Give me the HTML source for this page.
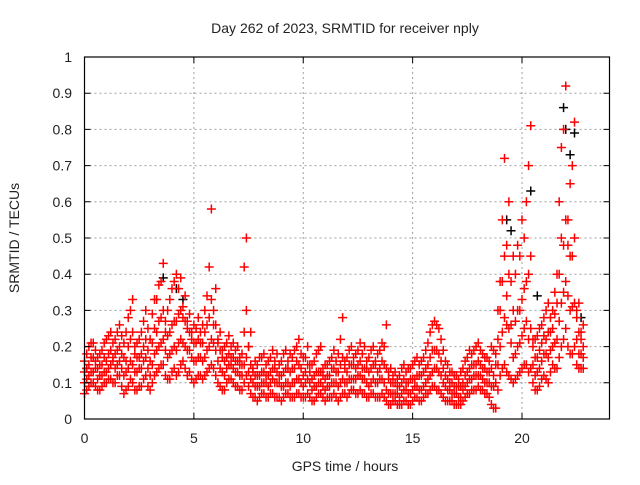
<!DOCTYPE html>
<html><head><meta charset="utf-8"><style>
body{margin:0;background:#fff;width:640px;height:480px;overflow:hidden}
svg text{font-family:"Liberation Sans",sans-serif;font-size:14px;fill:#222}
</style></head><body>
<svg id="chart" width="640" height="480" xmlns="http://www.w3.org/2000/svg">
<rect width="640" height="480" fill="#fff"/>
<g id="grid"></g>
<g id="marks"></g>
<rect x="84.5" y="57" width="525" height="362" fill="none" stroke="#000" stroke-width="1.2"/>
<g id="ticks"></g>
<text x="345" y="33" text-anchor="middle">Day 262 of 2023, SRMTID for receiver nply</text>
<text x="345" y="471" text-anchor="middle">GPS time / hours</text>
<text transform="translate(19,238) rotate(-90)" text-anchor="middle">SRMTID / TECUs</text>
</svg>
<script>
const times=[0.0,0.2,0.4,0.6,0.8,1.0,1.2,1.4,1.6,1.8,2.0,2.2,2.4,2.6,2.8,3.0,3.2,3.4,3.6,3.8,4.0,4.2,4.4,4.6,4.8,5.0,5.2,5.4,5.6,5.8,6.0,6.2,6.4,6.6,6.8,7.0,7.2,7.4,7.6,7.8,8.0,8.2,8.4,8.6,8.8,9.0,9.2,9.4,9.6,9.8,10.0,10.2,10.4,10.6,10.8,11.0,11.2,11.4,11.6,11.8,12.0,12.2,12.4,12.6,12.8,13.0,13.2,13.4,13.6,13.8,14.0,14.2,14.4,14.6,14.8,15.0,15.2,15.4,15.6,15.8,16.0,16.2,16.4,16.6,16.8,17.0,17.2,17.4,17.6,17.8,18.0,18.2,18.4,18.6,18.8,19.0,19.2,19.4,19.6,19.8,20.0,20.2,20.4,20.6,20.8,21.0,21.2,21.4,21.6,21.8,22.0,22.2,22.4,22.6,22.8];
const redLow=[.07,.09,.10,.08,.09,.10,.11,.10,.12,.07,.09,.10,.08,.09,.12,.08,.12,.14,.15,.11,.13,.12,.15,.14,.13,.10,.12,.11,.13,.15,.12,.09,.08,.11,.10,.09,.08,.12,.07,.06,.06,.07,.06,.07,.06,.05,.07,.06,.06,.07,.06,.07,.05,.06,.07,.05,.06,.07,.05,.07,.06,.08,.07,.08,.07,.06,.07,.06,.07,.05,.04,.05,.04,.05,.04,.05,.06,.05,.07,.08,.09,.08,.06,.05,.05,.04,.04,.06,.07,.08,.09,.08,.07,.04,.03,.12,.15,.12,.10,.12,.14,.15,.14,.08,.09,.12,.10,.15,.14,.20,.25,.18,.20,.14,.14];
const redMid1=[.10,.12,.13,.11,.12,.13,.15,.14,.16,.12,.14,.15,.13,.14,.17,.12,.18,.20,.22,.17,.19,.19,.22,.20,.19,.16,.17,.16,.19,.22,.19,.14,.12,.15,.14,.13,.12,.17,.11,.09,.09,.10,.09,.11,.10,.09,.10,.09,.10,.11,.09,.11,.08,.09,.10,.08,.09,.10,.09,.11,.10,.11,.11,.12,.11,.09,.11,.10,.11,.08,.07,.07,.06,.08,.07,.08,.09,.08,.10,.12,.14,.13,.10,.08,.07,.07,.06,.09,.11,.12,.12,.11,.10,.09,.10,.20,.28,.25,.17,.20,.23,.27,.25,.12,.14,.18,.17,.20,.22,.32,.38,.30,.32,.18,.17];
const redMid2=[.13,.15,.17,.14,.15,.16,.19,.18,.20,.17,.20,.24,.17,.18,.22,.16,.25,.27,.30,.23,.26,.27,.30,.27,.24,.21,.22,.21,.26,.33,.26,.19,.16,.18,.17,.16,.15,.30,.15,.12,.12,.13,.12,.14,.13,.12,.14,.13,.14,.15,.12,.15,.11,.13,.13,.11,.12,.14,.13,.17,.13,.15,.14,.16,.14,.13,.15,.13,.16,.14,.10,.10,.09,.11,.10,.11,.12,.12,.14,.17,.19,.18,.14,.11,.10,.09,.09,.12,.14,.15,.16,.14,.13,.14,.15,.30,.45,.40,.30,.30,.33,.38,.45,.17,.19,.23,.24,.25,.32,.50,.55,.45,.50,.24,.20];
const redHigh=[.16,.20,.21,.17,.19,.22,.24,.22,.26,.21,.28,.33,.21,.24,.30,.22,.33,.37,.43,.30,.36,.40,.39,.34,.29,.26,.28,.26,.34,.58,.36,.24,.20,.23,.21,.20,.18,.50,.24,.16,.17,.18,.16,.19,.18,.16,.19,.18,.19,.22,.17,.20,.15,.18,.20,.15,.16,.19,.18,.28,.17,.20,.18,.21,.20,.17,.20,.18,.21,.26,.14,.13,.12,.15,.14,.15,.17,.16,.19,.24,.27,.25,.19,.15,.13,.12,.13,.16,.19,.19,.21,.18,.17,.20,.18,.38,.72,.60,.45,.48,.55,.60,.81,.22,.25,.28,.32,.30,.40,.75,.92,.65,.82,.32,.26];
const times2=[0.1,0.3,0.5,0.7,0.9,1.1,1.3,1.5,1.7,1.9,2.1,2.3,2.5,2.7,2.9,3.1,3.3,3.5,3.7,3.9,4.1,4.3,4.5,4.7,4.9,5.1,5.3,5.5,5.7,5.9,6.1,6.3,6.5,6.7,6.9,7.1,7.3,7.5,7.7,7.9,8.1,8.3,8.5,8.7,8.9,9.1,9.3,9.5,9.7,9.9,10.1,10.3,10.5,10.7,10.9,11.1,11.3,11.5,11.7,11.9,12.1,12.3,12.5,12.7,12.9,13.1,13.3,13.5,13.7,13.9,14.1,14.3,14.5,14.7,14.9,15.1,15.3,15.5,15.7,15.9,16.1,16.3,16.5,16.7,16.9,17.1,17.3,17.5,17.7,17.9,18.1,18.3,18.5,18.7,18.9,19.1,19.3,19.5,19.7,19.9,20.1,20.3,20.5,20.7,20.9,21.1,21.3,21.5,21.7,21.9,22.1,22.3,22.5,22.7];
const redLowB=[.08,.10,.09,.08,.10,.11,.10,.12,.09,.08,.11,.08,.09,.11,.09,.10,.13,.15,.12,.11,.14,.13,.16,.12,.11,.11,.12,.12,.14,.14,.10,.08,.10,.11,.09,.08,.10,.09,.06,.05,.07,.06,.07,.06,.06,.06,.07,.06,.07,.06,.06,.06,.05,.07,.06,.06,.06,.06,.06,.07,.07,.08,.07,.07,.06,.07,.06,.06,.06,.04,.05,.04,.04,.05,.04,.06,.05,.06,.07,.09,.08,.07,.05,.05,.04,.04,.05,.07,.08,.08,.08,.07,.06,.03,.08,.14,.13,.11,.11,.13,.15,.13,.10,.08,.11,.11,.13,.14,.17,.22,.20,.18,.15,.14];
const redMidA=[.11,.13,.14,.12,.13,.14,.16,.15,.14,.13,.16,.13,.14,.16,.14,.15,.19,.21,.19,.18,.20,.21,.21,.19,.17,.16,.17,.17,.20,.21,.16,.13,.14,.15,.13,.12,.15,.13,.10,.09,.10,.10,.10,.10,.10,.09,.10,.10,.11,.10,.10,.10,.09,.10,.09,.09,.10,.10,.10,.10,.11,.11,.12,.11,.10,.10,.10,.11,.10,.07,.07,.07,.07,.08,.07,.09,.08,.09,.11,.13,.14,.12,.09,.08,.07,.06,.08,.10,.11,.12,.12,.10,.10,.09,.15,.24,.26,.21,.18,.21,.25,.22,.15,.13,.16,.18,.19,.21,.27,.35,.34,.31,.22,.18];
const redMidB=[.14,.17,.16,.15,.17,.18,.17,.19,.18,.16,.22,.18,.17,.20,.19,.21,.24,.28,.24,.24,.27,.29,.28,.25,.22,.21,.21,.24,.28,.26,.21,.17,.17,.17,.16,.15,.24,.20,.13,.12,.13,.12,.13,.14,.12,.13,.14,.14,.16,.14,.13,.13,.12,.13,.12,.12,.14,.13,.15,.14,.15,.15,.15,.14,.14,.14,.15,.14,.15,.11,.10,.09,.10,.10,.11,.11,.12,.13,.15,.19,.19,.16,.12,.10,.09,.09,.10,.13,.15,.15,.15,.14,.13,.12,.22,.38,.34,.26,.27,.30,.36,.40,.20,.17,.21,.22,.24,.29,.40,.48,.48,.45,.30,.22];
const redHighB=[.18,.21,.19,.18,.21,.23,.21,.24,.23,.24,.30,.20,.22,.27,.25,.29,.33,.38,.27,.33,.38,.36,.31,.27,.24,.25,.24,.30,.42,.30,.22,.19,.21,.20,.19,.17,.42,.20,.14,.15,.17,.15,.17,.16,.15,.18,.16,.17,.20,.18,.17,.15,.16,.19,.14,.15,.17,.16,.22,.16,.19,.17,.19,.18,.16,.19,.16,.19,.20,.13,.12,.11,.14,.13,.14,.16,.15,.17,.21,.26,.26,.22,.16,.13,.12,.11,.14,.17,.18,.20,.19,.17,.16,.19,.30,.55,.48,.38,.40,.45,.50,.70,.22,.23,.26,.30,.28,.35,.60,.80,.55,.70,.28,.24];
const blackTimes=[0.1,3.6,4.2,4.5,19.3,19.5,20.4,20.7,21.9,22.0,22.2,22.4,22.7];
const blackVals=[.14,.39,.36,.33,.55,.52,.63,.34,.86,.80,.73,.79,.28];
const xTicks=[0,5,10,15,20];
const yTicks=[0,0.1,0.2,0.3,0.4,0.5,0.6,0.7,0.8,0.9,1];
const yTickLabels=["0","0.1","0.2","0.3","0.4","0.5","0.6","0.7","0.8","0.9","1"];

const L=84.5,R=609.5,T=57,B=419,XMAX=24;
const sx=v=>L+v/XMAX*(R-L);
const sy=v=>B-v*(B-T);
const NS="http://www.w3.org/2000/svg";
function mk(tag,attrs,parent){const e=document.createElementNS(NS,tag);for(const k in attrs)e.setAttribute(k,attrs[k]);parent.appendChild(e);return e;}
const grid=document.getElementById('grid'),ticks=document.getElementById('ticks'),marks=document.getElementById('marks');
xTicks.forEach(v=>{
  const x=sx(v);
  if(v>0){const g=mk('line',{x1:x,x2:x,y1:T,y2:B,stroke:'#a0a0a0','stroke-dasharray':'2,3'},grid);
  
  }
  const t=mk('path',{d:`M${x},${B}v-6M${x},${T}v6`,stroke:'#000'},ticks);
  
  
  const l=mk('text',{x:x,y:443,'text-anchor':'middle'},ticks);l.textContent=v;
  
  
});
yTicks.forEach((v,i)=>{
  const y=sy(v);
  if(v>0&&v<1){const g=mk('line',{x1:L,x2:R,y1:y,y2:y,stroke:'#a0a0a0','stroke-dasharray':'2,3'},grid);
  
  }
  const t=mk('path',{d:`M${L},${y}h6M${R},${y}h-6`,stroke:'#000'},ticks);
  
  
  const l=mk('text',{x:72,y:y+5,'text-anchor':'end'},ticks);l.textContent=yTickLabels[i];
  
  
});
function plus(t,v,col,name){
  const x=sx(t),y=sy(v);
  const p=mk('path',{d:`M${x-4.5},${y}h9M${x},${y-4.5}v9`,stroke:col,'stroke-width':1.5},marks);
  
  
}
blackTimes.forEach((t,i)=>plus(t,blackVals[i],'#000000','black-point'));
[redLow,redMid1,redMid2,redHigh].forEach(s=>{
  times.forEach((t,i)=>plus(t,s[i],'#ff0000','red-point'));
});
[redLowB,redMidA,redMidB,redHighB].forEach(s=>{
  times2.forEach((t,i)=>plus(t,s[i],'#ff0000','red-point'));
});
</script>
</body></html>
